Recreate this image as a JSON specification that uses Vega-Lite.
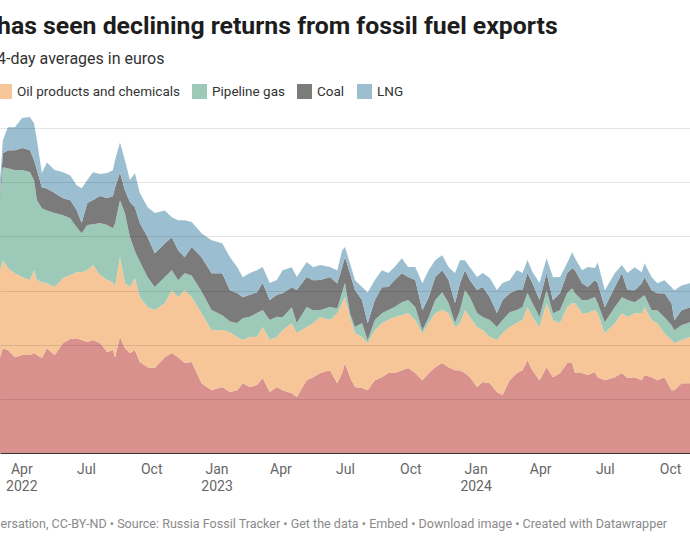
{
  "$schema": "https://vega.github.io/schema/vega-lite/v6.json",
  "width": 690,
  "height": 352,
  "autosize": {"type": "none"},
  "padding": {"top": 101, "left": 0, "right": 0, "bottom": 97},
  "background": "white",
  "config": {"font": "Roboto", "view": {"stroke": null}},
  "title": {
    "text": "has seen declining returns from fossil fuel exports",
    "subtitle": "4-day averages in euros",
    "anchor": "start",
    "frame": "group",
    "offset": 17,
    "dx": -3,
    "font": "Roboto",
    "fontSize": 24.8,
    "fontWeight": "bold",
    "color": "#1d1d1d",
    "subtitleFont": "Roboto",
    "subtitleFontSize": 16,
    "subtitleColor": "#333333",
    "subtitlePadding": 12
  },
  "datasets": {
    "series": [
      {"key": "crude", "name": "Crude oil", "k": 1},
      {"key": "oil", "name": "Oil products and chemicals", "k": 2},
      {"key": "pipe", "name": "Pipeline gas", "k": 3},
      {"key": "coal", "name": "Coal", "k": 4},
      {"key": "lng", "name": "LNG", "k": 5}
    ],
    "rev": [
      {"d": "2022-03-02", "crude": 354, "oil": 321, "pipe": 258, "coal": 18, "lng": 55},
      {"d": "2022-03-06", "crude": 387, "oil": 325, "pipe": 343, "coal": 52, "lng": 48},
      {"d": "2022-03-13", "crude": 380, "oil": 303, "pipe": 369, "coal": 66, "lng": 85},
      {"d": "2022-03-23", "crude": 354, "oil": 310, "pipe": 380, "coal": 74, "lng": 85},
      {"d": "2022-04-02", "crude": 362, "oil": 288, "pipe": 395, "coal": 81, "lng": 111},
      {"d": "2022-04-13", "crude": 362, "oil": 277, "pipe": 399, "coal": 81, "lng": 122},
      {"d": "2022-04-19", "crude": 369, "oil": 306, "pipe": 332, "coal": 74, "lng": 137},
      {"d": "2022-04-23", "crude": 362, "oil": 277, "pipe": 295, "coal": 111, "lng": 111},
      {"d": "2022-04-30", "crude": 351, "oil": 280, "pipe": 273, "coal": 77, "lng": 52},
      {"d": "2022-05-07", "crude": 387, "oil": 240, "pipe": 269, "coal": 81, "lng": 96},
      {"d": "2022-05-18", "crude": 362, "oil": 251, "pipe": 273, "coal": 74, "lng": 85},
      {"d": "2022-05-30", "crude": 406, "oil": 240, "pipe": 232, "coal": 63, "lng": 96},
      {"d": "2022-06-09", "crude": 421, "oil": 236, "pipe": 210, "coal": 66, "lng": 92},
      {"d": "2022-06-18", "crude": 424, "oil": 244, "pipe": 166, "coal": 63, "lng": 92},
      {"d": "2022-06-25", "crude": 417, "oil": 251, "pipe": 144, "coal": 37, "lng": 129},
      {"d": "2022-07-03", "crude": 410, "oil": 266, "pipe": 166, "coal": 81, "lng": 85},
      {"d": "2022-07-11", "crude": 417, "oil": 277, "pipe": 151, "coal": 89, "lng": 103},
      {"d": "2022-07-21", "crude": 406, "oil": 251, "pipe": 192, "coal": 100, "lng": 81},
      {"d": "2022-07-31", "crude": 373, "oil": 266, "pipe": 203, "coal": 100, "lng": 92},
      {"d": "2022-08-08", "crude": 380, "oil": 251, "pipe": 199, "coal": 118, "lng": 96},
      {"d": "2022-08-11", "crude": 354, "oil": 258, "pipe": 236, "coal": 133, "lng": 100},
      {"d": "2022-08-18", "crude": 428, "oil": 295, "pipe": 210, "coal": 103, "lng": 111},
      {"d": "2022-08-25", "crude": 387, "oil": 240, "pipe": 258, "coal": 85, "lng": 111},
      {"d": "2022-09-01", "crude": 369, "oil": 244, "pipe": 185, "coal": 129, "lng": 81},
      {"d": "2022-09-08", "crude": 380, "oil": 266, "pipe": 100, "coal": 162, "lng": 125},
      {"d": "2022-09-15", "crude": 336, "oil": 240, "pipe": 130, "coal": 143, "lng": 111},
      {"d": "2022-09-26", "crude": 317, "oil": 221, "pipe": 111, "coal": 148, "lng": 111},
      {"d": "2022-10-06", "crude": 314, "oil": 214, "pipe": 85, "coal": 125, "lng": 148},
      {"d": "2022-10-20", "crude": 354, "oil": 199, "pipe": 96, "coal": 125, "lng": 122},
      {"d": "2022-10-30", "crude": 369, "oil": 232, "pipe": 74, "coal": 122, "lng": 74},
      {"d": "2022-11-08", "crude": 354, "oil": 221, "pipe": 63, "coal": 111, "lng": 111},
      {"d": "2022-11-17", "crude": 332, "oil": 269, "pipe": 63, "coal": 59, "lng": 137},
      {"d": "2022-11-27", "crude": 336, "oil": 240, "pipe": 80, "coal": 105, "lng": 92},
      {"d": "2022-12-11", "crude": 258, "oil": 258, "pipe": 80, "coal": 127, "lng": 89},
      {"d": "2022-12-25", "crude": 232, "oil": 221, "pipe": 75, "coal": 136, "lng": 122},
      {"d": "2023-01-09", "crude": 244, "oil": 210, "pipe": 55, "coal": 155, "lng": 111},
      {"d": "2023-01-20", "crude": 225, "oil": 221, "pipe": 40, "coal": 115, "lng": 122},
      {"d": "2023-01-30", "crude": 232, "oil": 196, "pipe": 52, "coal": 111, "lng": 96},
      {"d": "2023-02-07", "crude": 258, "oil": 159, "pipe": 81, "coal": 77, "lng": 74},
      {"d": "2023-02-17", "crude": 244, "oil": 185, "pipe": 74, "coal": 81, "lng": 81},
      {"d": "2023-02-27", "crude": 251, "oil": 177, "pipe": 89, "coal": 77, "lng": 81},
      {"d": "2023-03-07", "crude": 277, "oil": 188, "pipe": 63, "coal": 100, "lng": 59},
      {"d": "2023-03-17", "crude": 225, "oil": 192, "pipe": 74, "coal": 74, "lng": 63},
      {"d": "2023-03-27", "crude": 244, "oil": 185, "pipe": 74, "coal": 81, "lng": 55},
      {"d": "2023-04-04", "crude": 232, "oil": 221, "pipe": 48, "coal": 89, "lng": 85},
      {"d": "2023-04-17", "crude": 221, "oil": 258, "pipe": 59, "coal": 74, "lng": 74},
      {"d": "2023-04-24", "crude": 207, "oil": 236, "pipe": 37, "coal": 122, "lng": 48},
      {"d": "2023-05-08", "crude": 269, "oil": 196, "pipe": 74, "coal": 111, "lng": 55},
      {"d": "2023-05-17", "crude": 280, "oil": 199, "pipe": 48, "coal": 111, "lng": 48},
      {"d": "2023-05-27", "crude": 295, "oil": 207, "pipe": 26, "coal": 111, "lng": 55},
      {"d": "2023-06-10", "crude": 306, "oil": 185, "pipe": 48, "coal": 111, "lng": 37},
      {"d": "2023-06-20", "crude": 258, "oil": 258, "pipe": 18, "coal": 92, "lng": 48},
      {"d": "2023-06-27", "crude": 295, "oil": 258, "pipe": 41, "coal": 92, "lng": 63},
      {"d": "2023-07-01", "crude": 332, "oil": 244, "pipe": 52, "coal": 96, "lng": 37},
      {"d": "2023-07-08", "crude": 280, "oil": 221, "pipe": 15, "coal": 148, "lng": 37},
      {"d": "2023-07-15", "crude": 244, "oil": 199, "pipe": 22, "coal": 137, "lng": 37},
      {"d": "2023-07-25", "crude": 240, "oil": 188, "pipe": 52, "coal": 85, "lng": 48},
      {"d": "2023-08-02", "crude": 232, "oil": 173, "pipe": 11, "coal": 63, "lng": 114},
      {"d": "2023-08-12", "crude": 269, "oil": 185, "pipe": 37, "coal": 74, "lng": 74},
      {"d": "2023-08-22", "crude": 280, "oil": 199, "pipe": 37, "coal": 96, "lng": 63},
      {"d": "2023-08-31", "crude": 295, "oil": 196, "pipe": 37, "coal": 85, "lng": 52},
      {"d": "2023-09-09", "crude": 295, "oil": 207, "pipe": 37, "coal": 100, "lng": 48},
      {"d": "2023-09-19", "crude": 306, "oil": 203, "pipe": 48, "coal": 107, "lng": 55},
      {"d": "2023-09-28", "crude": 314, "oil": 203, "pipe": 48, "coal": 85, "lng": 37},
      {"d": "2023-10-08", "crude": 295, "oil": 196, "pipe": 48, "coal": 100, "lng": 48},
      {"d": "2023-10-18", "crude": 269, "oil": 173, "pipe": 11, "coal": 74, "lng": 100},
      {"d": "2023-10-27", "crude": 295, "oil": 185, "pipe": 22, "coal": 74, "lng": 100},
      {"d": "2023-11-05", "crude": 317, "oil": 199, "pipe": 48, "coal": 85, "lng": 63},
      {"d": "2023-11-15", "crude": 332, "oil": 196, "pipe": 66, "coal": 81, "lng": 55},
      {"d": "2023-11-24", "crude": 317, "oil": 199, "pipe": 37, "coal": 85, "lng": 48},
      {"d": "2023-12-03", "crude": 306, "oil": 159, "pipe": 15, "coal": 74, "lng": 111},
      {"d": "2023-12-10", "crude": 306, "oil": 173, "pipe": 48, "coal": 100, "lng": 85},
      {"d": "2023-12-17", "crude": 295, "oil": 232, "pipe": 74, "coal": 74, "lng": 37},
      {"d": "2023-12-24", "crude": 280, "oil": 221, "pipe": 74, "coal": 63, "lng": 48},
      {"d": "2024-01-03", "crude": 244, "oil": 221, "pipe": 52, "coal": 85, "lng": 48},
      {"d": "2024-01-11", "crude": 262, "oil": 192, "pipe": 48, "coal": 111, "lng": 52},
      {"d": "2024-01-21", "crude": 258, "oil": 170, "pipe": 63, "coal": 85, "lng": 70},
      {"d": "2024-01-31", "crude": 225, "oil": 192, "pipe": 48, "coal": 52, "lng": 85},
      {"d": "2024-02-08", "crude": 214, "oil": 229, "pipe": 48, "coal": 74, "lng": 63},
      {"d": "2024-02-18", "crude": 269, "oil": 196, "pipe": 55, "coal": 70, "lng": 48},
      {"d": "2024-02-28", "crude": 295, "oil": 185, "pipe": 48, "coal": 74, "lng": 74},
      {"d": "2024-03-07", "crude": 306, "oil": 185, "pipe": 48, "coal": 63, "lng": 63},
      {"d": "2024-03-14", "crude": 343, "oil": 196, "pipe": 52, "coal": 74, "lng": 48},
      {"d": "2024-03-21", "crude": 306, "oil": 196, "pipe": 52, "coal": 74, "lng": 41},
      {"d": "2024-03-31", "crude": 269, "oil": 196, "pipe": 37, "coal": 63, "lng": 63},
      {"d": "2024-04-10", "crude": 317, "oil": 236, "pipe": 48, "coal": 63, "lng": 55},
      {"d": "2024-04-19", "crude": 280, "oil": 210, "pipe": 26, "coal": 48, "lng": 85},
      {"d": "2024-04-29", "crude": 295, "oil": 185, "pipe": 48, "coal": 63, "lng": 59},
      {"d": "2024-05-09", "crude": 332, "oil": 207, "pipe": 52, "coal": 74, "lng": 37},
      {"d": "2024-05-16", "crude": 332, "oil": 221, "pipe": 55, "coal": 74, "lng": 59},
      {"d": "2024-05-20", "crude": 295, "oil": 258, "pipe": 37, "coal": 85, "lng": 44},
      {"d": "2024-05-30", "crude": 295, "oil": 221, "pipe": 48, "coal": 63, "lng": 48},
      {"d": "2024-06-07", "crude": 288, "oil": 229, "pipe": 48, "coal": 48, "lng": 74},
      {"d": "2024-06-17", "crude": 299, "oil": 229, "pipe": 48, "coal": 63, "lng": 44},
      {"d": "2024-06-21", "crude": 280, "oil": 236, "pipe": 37, "coal": 74, "lng": 77},
      {"d": "2024-07-01", "crude": 269, "oil": 173, "pipe": 41, "coal": 55, "lng": 63},
      {"d": "2024-07-15", "crude": 280, "oil": 199, "pipe": 59, "coal": 74, "lng": 52},
      {"d": "2024-07-25", "crude": 295, "oil": 221, "pipe": 59, "coal": 89, "lng": 30},
      {"d": "2024-08-02", "crude": 277, "oil": 225, "pipe": 63, "coal": 37, "lng": 63},
      {"d": "2024-08-12", "crude": 280, "oil": 236, "pipe": 41, "coal": 44, "lng": 85},
      {"d": "2024-08-22", "crude": 269, "oil": 247, "pipe": 59, "coal": 52, "lng": 41},
      {"d": "2024-08-26", "crude": 288, "oil": 251, "pipe": 44, "coal": 66, "lng": 52},
      {"d": "2024-09-05", "crude": 280, "oil": 210, "pipe": 37, "coal": 74, "lng": 48},
      {"d": "2024-09-13", "crude": 269, "oil": 210, "pipe": 48, "coal": 63, "lng": 37},
      {"d": "2024-09-23", "crude": 280, "oil": 162, "pipe": 59, "coal": 89, "lng": 48},
      {"d": "2024-10-03", "crude": 232, "oil": 185, "pipe": 55, "coal": 81, "lng": 59},
      {"d": "2024-10-07", "crude": 232, "oil": 173, "pipe": 48, "coal": 37, "lng": 111},
      {"d": "2024-10-17", "crude": 258, "oil": 159, "pipe": 55, "coal": 55, "lng": 92},
      {"d": "2024-10-29", "crude": 258, "oil": 170, "pipe": 55, "coal": 55, "lng": 89}
    ]
  },
  "data": {"name": "rev"},
  "transform": [
    {"fold": ["crude", "oil", "pipe", "coal", "lng"], "as": ["key", "value"]},
    {"lookup": "key", "from": {"data": {"name": "series"}, "key": "key", "fields": ["name", "k"]}}
  ],
  "mark": {"type": "area", "clip": true, "interpolate": "linear"},
  "encoding": {
    "x": {
      "field": "d",
      "type": "temporal",
      "scale": {"domain": [{"year": 2022, "month": 3, "date": 2, "utc": true}, {"year": 2024, "month": 10, "date": 29, "utc": true}]},
      "axis": {
        "title": "ersation, CC-BY-ND • Source: Russia Fossil Tracker • Get the data • Embed  • Download image • Created with Datawrapper",
        "titleAnchor": "start",
        "titleAlign": "left",
        "titleX": 0,
        "titleY": 74,
        "titleBaseline": "alphabetic",
        "titleFont": "Roboto",
        "titleFontSize": 12.55,
        "titleFontWeight": "normal",
        "titleColor": "#8a8a8a",
        "tickCount": {"interval": "month", "step": 3},
        "labelExpr": "[timeFormat(datum.value, '%b'), (month(datum.value) == 0 || datum.index == 0) ? timeFormat(datum.value, '%Y') : '']",
        "labelFont": "Roboto",
        "labelFontSize": 14,
        "labelColor": "#666666",
        "labelPadding": 9,
        "labelLineHeight": 17,
        "labelOverlap": false,
        "labelFlush": false,
        "ticks": false,
        "grid": false,
        "domainColor": "#333333",
        "domainWidth": 1,
        "zindex": 1
      }
    },
    "y": {
      "field": "value",
      "type": "quantitative",
      "stack": "zero",
      "scale": {"domain": [0, 1300], "nice": false},
      "axis": {
        "title": null,
        "labels": false,
        "ticks": false,
        "domain": false,
        "grid": true,
        "gridColor": "#000000",
        "gridOpacity": 0.1,
        "values": [200, 400, 600, 800, 1000, 1200],
        "zindex": 1
      }
    },
    "color": {
      "field": "name",
      "type": "nominal",
      "scale": {
        "domain": ["Crude oil", "Oil products and chemicals", "Pipeline gas", "Coal", "LNG"],
        "range": ["#d9918e", "#f7c698", "#9dcab8", "#7b7b7b", "#9bbfd0"]
      },
      "legend": {
        "orient": "none",
        "legendX": -3,
        "legendY": -17,
        "direction": "horizontal",
        "title": null,
        "values": ["Oil products and chemicals", "Pipeline gas", "Coal", "LNG"],
        "symbolType": "square",
        "symbolSize": 225,
        "symbolStrokeWidth": 0,
        "symbolOpacity": 1,
        "labelFont": "Roboto",
        "labelFontSize": 13.5,
        "labelColor": "#333333",
        "labelLimit": 400,
        "labelOffset": 5,
        "columnPadding": 12,
        "padding": 0
      }
    },
    "order": {"field": "k", "type": "quantitative"}
  }
}
